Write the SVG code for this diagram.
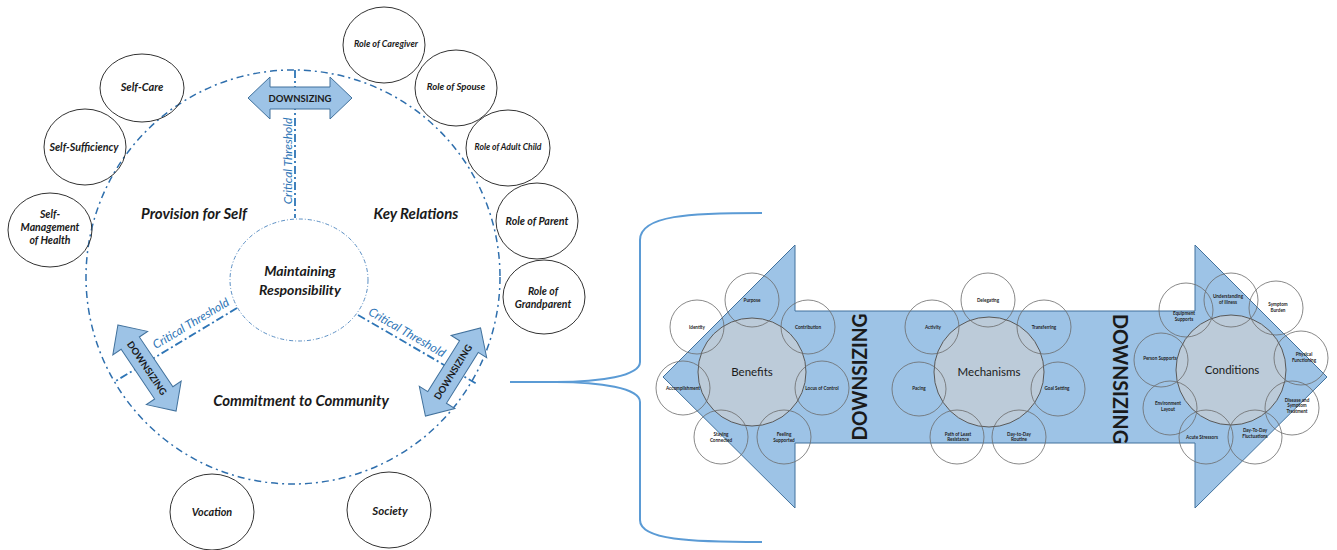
<svg xmlns="http://www.w3.org/2000/svg" width="1337" height="550" viewBox="0 0 1337 550">
<defs>
<style>
.lbl{font-family:Lato,"Liberation Sans",sans-serif;font-weight:bold;font-style:italic;fill:#1a1a1a;text-anchor:middle}
.sec{font-size:15px}
.oc{fill:none;stroke:#333;stroke-width:1}
.ring{fill:none;stroke:#2f6fad;stroke-width:1.5;stroke-dasharray:7 4 2 4}
.inner{fill:none;stroke:#5b8fc4;stroke-width:1;stroke-dasharray:4 2 1 2}
.thr{fill:none;stroke:#2e75b6;stroke-width:1.8;stroke-dasharray:8 3 2 3}
.thrt{font-family:Lato,"Liberation Sans",sans-serif;font-style:italic;font-size:12px;fill:#2e75b6;text-anchor:middle}
.arr{fill:#9dc3e6;stroke:#41719c;stroke-width:1}
.dz{font-family:Lato,"Liberation Sans",sans-serif;font-weight:bold;font-size:9.5px;fill:#1a1a1a;text-anchor:middle}
.dzb{font-family:Lato,"Liberation Sans",sans-serif;font-weight:bold;font-size:20px;fill:#1a1a1a;text-anchor:middle}
.big{fill:#d0d0d0;fill-opacity:0.6;stroke:#595959;stroke-width:1}
.sat{fill:none;stroke:#6b6b6b;stroke-width:0.8}
.st{font-family:Lato,"Liberation Sans",sans-serif;font-weight:bold;font-size:4.6px;fill:#222;text-anchor:middle}
.bt{font-family:Lato,"Liberation Sans",sans-serif;font-size:11.5px;fill:#1a1a1a;text-anchor:middle}
.brace{fill:none;stroke:#5b9bd5;stroke-width:2}
</style>
<path id="dbl" d="M-52,0 L-30,-21 L-30,-11 L30,-11 L30,-21 L52,0 L30,21 L30,11 L-30,11 L-30,21 Z"/>
</defs>
<rect width="1337" height="550" fill="#ffffff"/>

<g id="connectors">
<circle class="ring" cx="293" cy="277" r="207"/>
<path class="thr" d="M295,70 L295,218"/>
<path class="thr" d="M237,308 L114,382"/>
<path class="thr" d="M358,315 L477,384"/>
<path class="brace" d="M762,213 C690,213 640,215 640,240 L640,362 C640,376 600,382 556,382 L510,382 M556,382 C600,382 640,388 640,402 L640,520 C640,540 690,542 762,542"/>
</g>

<g id="thresholds">
<text class="thrt" transform="translate(292,161) rotate(-90)">Critical Threshold</text>
<text class="thrt" transform="translate(193,327) rotate(-31)">Critical Threshold</text>
<text class="thrt" transform="translate(405,336) rotate(30)">Critical Threshold</text>
</g>

<g id="core">
<ellipse class="inner" cx="299" cy="280" rx="69" ry="61" fill="#ffffff"/>
<text class="lbl" font-size="14px" x="300" y="276">Maintaining</text>
<text class="lbl" font-size="14px" x="300" y="295">Responsibility</text>
</g>

<g id="downsizing-top">
<use href="#dbl" class="arr" transform="translate(300,98)"/>
<text class="dz" x="300" y="101.5">DOWNSIZING</text>
</g>
<g id="downsizing-left">
<use href="#dbl" class="arr" transform="translate(147,368) rotate(56)"/>
<text class="dz" transform="translate(147,368) rotate(56)" y="3.5">DOWNSIZING</text>
</g>
<g id="downsizing-right">
<use href="#dbl" class="arr" transform="translate(453,372) rotate(-58)"/>
<text class="dz" transform="translate(453,372) rotate(-58)" y="3.5">DOWNSIZING</text>
</g>

<g id="sections">
<text class="lbl sec" x="194" y="219">Provision for Self</text>
<text class="lbl sec" x="416" y="219">Key Relations</text>
<text class="lbl sec" x="301" y="406">Commitment to Community</text>
</g>

<g id="self-care"><ellipse class="oc" cx="142" cy="88" rx="42" ry="34"/><text class="lbl" font-size="11px" x="142" y="91">Self-Care</text></g>
<g id="self-sufficiency"><ellipse class="oc" cx="85" cy="147" rx="41" ry="38"/><text class="lbl" font-size="10.7px" x="84" y="151">Self-Sufficiency</text></g>
<g id="self-management"><ellipse class="oc" cx="50" cy="230" rx="42" ry="37"/><text class="lbl" font-size="10.5px" x="50" y="218">Self-</text><text class="lbl" font-size="10.5px" x="50" y="231">Management</text><text class="lbl" font-size="10.5px" x="50" y="244">of Health</text></g>
<g id="caregiver"><ellipse class="oc" cx="384" cy="45" rx="41" ry="38"/><text class="lbl" font-size="9px" x="386" y="47">Role of Caregiver</text></g>
<g id="spouse"><ellipse class="oc" cx="456" cy="88" rx="41" ry="38"/><text class="lbl" font-size="9.6px" x="456" y="90">Role of Spouse</text></g>
<g id="adult-child"><ellipse class="oc" cx="508" cy="148" rx="42" ry="38"/><text class="lbl" font-size="8.6px" x="508" y="150">Role of Adult Child</text></g>
<g id="parent"><ellipse class="oc" cx="537" cy="221" rx="41" ry="38"/><text class="lbl" font-size="10.7px" x="537" y="225">Role of Parent</text></g>
<g id="grandparent"><ellipse class="oc" cx="544" cy="297" rx="41" ry="37"/><text class="lbl" font-size="10.5px" x="543" y="295">Role of</text><text class="lbl" font-size="10.5px" x="543" y="308">Grandparent</text></g>
<g id="vocation"><ellipse class="oc" cx="212" cy="512" rx="42" ry="38"/><text class="lbl" font-size="10.8px" x="212" y="516">Vocation</text></g>
<g id="society"><ellipse class="oc" cx="389" cy="510" rx="42" ry="38"/><text class="lbl" font-size="11.5px" x="390" y="515">Society</text></g>

<g id="big-arrow">
<path class="arr" d="M663,377 L795,245 L795,311 L1195,311 L1195,245 L1327,377 L1195,508 L1195,443 L795,443 L795,508 Z"/>
<text class="dzb" transform="translate(867,377) rotate(-90)" textLength="127" lengthAdjust="spacingAndGlyphs">DOWNSIZING</text>
<text class="dzb" transform="translate(1113,379) rotate(90)" textLength="130" lengthAdjust="spacingAndGlyphs">DOWNSIZING</text>
</g>

<g id="benefits">
<circle class="big" cx="752" cy="372" r="54"/>
<text class="bt" x="752" y="376">Benefits</text>
<circle class="sat" cx="752" cy="300" r="27"/><text class="st" x="752" y="302">Purpose</text>
<circle class="sat" cx="808" cy="327" r="27"/><text class="st" x="808" y="329">Contribution</text>
<circle class="sat" cx="822" cy="388" r="27"/><text class="st" x="822" y="390">Locus of Control</text>
<circle class="sat" cx="784" cy="437" r="27"/><text class="st" x="784" y="436">Feeling</text><text class="st" x="784" y="441.5">Supported</text>
<circle class="sat" cx="721" cy="437" r="27"/><text class="st" x="721" y="436">Staying</text><text class="st" x="721" y="441.5">Connected</text>
<circle class="sat" cx="683" cy="388" r="27"/><text class="st" x="683" y="390">Accomplishment</text>
<circle class="sat" cx="697" cy="327" r="27"/><text class="st" x="697" y="329">Identity</text>
</g>

<g id="mechanisms">
<circle class="big" cx="989" cy="372" r="55"/>
<text class="bt" x="989" y="376">Mechanisms</text>
<circle class="sat" cx="988" cy="300" r="27"/><text class="st" x="988" y="302">Delegating</text>
<circle class="sat" cx="1044" cy="327" r="27"/><text class="st" x="1044" y="329">Transferring</text>
<circle class="sat" cx="1058" cy="389" r="27"/><text class="st" x="1057" y="390">Goal Setting</text>
<circle class="sat" cx="1019" cy="437" r="27"/><text class="st" x="1019" y="435.5">Day-to-Day</text><text class="st" x="1019" y="441">Routine</text>
<circle class="sat" cx="957" cy="437" r="27"/><text class="st" x="958" y="435.5">Path of Least</text><text class="st" x="958" y="441">Resistance</text>
<circle class="sat" cx="919" cy="389" r="27"/><text class="st" x="919" y="390">Pacing</text>
<circle class="sat" cx="932" cy="327" r="27"/><text class="st" x="933" y="329">Activity</text>
</g>

<g id="conditions">
<circle class="big" cx="1231" cy="370" r="55"/>
<text class="bt" x="1232" y="374">Conditions</text>
<circle class="sat" cx="1231" cy="300" r="27"/><text class="st" x="1228" y="298">Understanding</text><text class="st" x="1228" y="303.5">of Illness</text>
<circle class="sat" cx="1276" cy="308" r="27"/><text class="st" x="1278" y="306">Symptom</text><text class="st" x="1278" y="311.5">Burden</text>
<circle class="sat" cx="1301" cy="358" r="27"/><text class="st" x="1304" y="356">Physical</text><text class="st" x="1304" y="361.5">Functioning</text>
<circle class="sat" cx="1292" cy="408" r="27"/><text class="st" x="1297" y="401.5">Disease and</text><text class="st" x="1297" y="407">Symptom</text><text class="st" x="1297" y="412.5">Treatment</text>
<circle class="sat" cx="1255" cy="437" r="27"/><text class="st" x="1255" y="432">Day-To-Day</text><text class="st" x="1255" y="437.5">Fluctuations</text>
<circle class="sat" cx="1206" cy="437" r="27"/><text class="st" x="1202" y="439">Acute Stressors</text>
<circle class="sat" cx="1170" cy="408" r="27"/><text class="st" x="1168" y="405">Environment</text><text class="st" x="1168" y="410.5">Layout</text>
<circle class="sat" cx="1161" cy="360" r="27"/><text class="st" x="1160" y="360">Person Supports</text>
<circle class="sat" cx="1186" cy="310" r="27"/><text class="st" x="1184" y="315">Equipment</text><text class="st" x="1184" y="320.5">Supports</text>
</g>
</svg>
